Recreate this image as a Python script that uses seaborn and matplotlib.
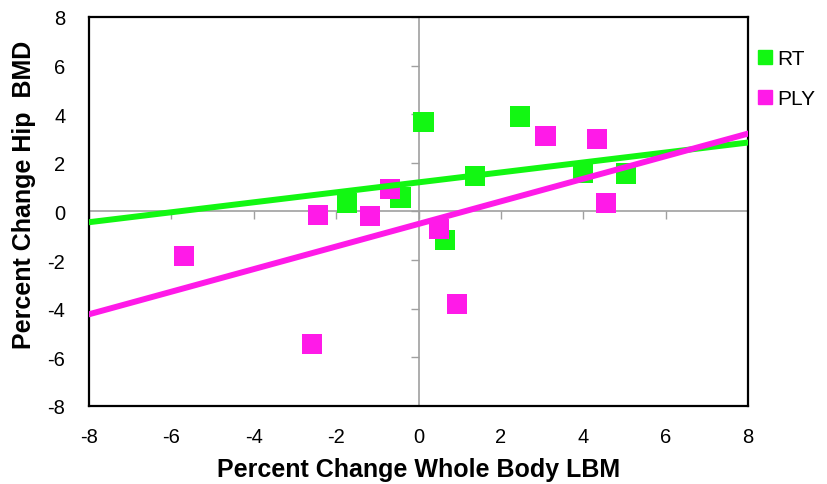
import numpy as np
import pandas as pd
import seaborn as sns
import matplotlib.pyplot as plt

# --- data ---
rt_x = [-1.74, -0.43, 0.12, 0.64, 1.37, 2.46, 3.99, 5.04]
rt_y = [0.35, 0.58, 3.68, -1.18, 1.45, 3.90, 1.58, 1.55]
ply_x = [-5.69, -2.59, -2.44, -1.18, -0.69, 0.50, 0.93, 3.09, 4.33, 4.55]
ply_y = [-1.83, -5.45, -0.14, -0.19, 0.93, -0.72, -3.81, 3.11, 2.98, 0.35]
ticks = [-8, -6, -4, -2, 0, 2, 4, 6, 8]

groups = ['RT', 'PLY']
colors = {'RT': '#12F712', 'PLY': '#FF1AE8'}

df = pd.concat([
    pd.DataFrame({'x': rt_x, 'y': rt_y, 'group': 'RT'}),
    pd.DataFrame({'x': ply_x, 'y': ply_y, 'group': 'PLY'}),
])

sns.set_style('white')
plt.rcParams['font.family'] = ['Liberation Sans', 'DejaVu Sans']
plt.rcParams['axes.unicode_minus'] = False
for key in ['text.color', 'axes.labelcolor', 'xtick.color', 'ytick.color']:
    plt.rcParams[key] = 'black'

fig = plt.figure(figsize=(8.27, 4.85), dpi=100)
ax = fig.add_axes([0.1076, 0.161, 0.7969, 0.802])
ax.set_xlim(-8, 8)
ax.set_ylim(-8, 8)

# gray axes crossing at zero, with small tick marks
ax.axhline(0, color='#A0A0A0', lw=1.2, zorder=1)
ax.axvline(0, color='#A0A0A0', lw=1.2, zorder=1)
ax.scatter(ticks, np.zeros(len(ticks)), marker=3, s=30, color='#A0A0A0', lw=1, zorder=1)
ax.scatter(np.zeros(len(ticks)), ticks, marker=0, s=30, color='#A0A0A0', lw=1, zorder=1)

sns.scatterplot(data=df, x='x', y='y', hue='group', hue_order=groups,
                palette=colors, marker='s', s=220, edgecolor='none',
                legend=False, ax=ax, zorder=3)

for g in groups:
    sub = df[df.group == g]
    sns.regplot(data=sub, x='x', y='y', scatter=False, ci=None, truncate=False,
                color=colors[g], line_kws={'lw': 4.3, 'zorder': 4}, ax=ax)

ax.set_xlim(-8, 8)
ax.set_ylim(-8, 8)
ax.set_xticks(ticks)
ax.set_yticks(ticks)
ax.tick_params(length=0, labelsize=14.5)
ax.tick_params(axis='x', pad=15)
ax.tick_params(axis='y', pad=17)
for s in ax.spines.values():
    s.set_visible(True)
    s.set_color('black')
    s.set_linewidth(1.6)

ax.set_xlabel('Percent Change Whole Body LBM', fontsize=18, fontweight='bold', labelpad=8)
ax.set_ylabel('Percent Change Hip  BMD', fontsize=18, fontweight='bold')
ax.yaxis.set_label_coords(-0.08, 0.545)

handles = [plt.Line2D([], [], marker='s', ls='', color=colors[g], markersize=10) for g in groups]
fig.legend(handles, groups, loc='upper left', bbox_to_anchor=(0.889, 0.935),
           frameon=False, fontsize=15, handletextpad=0.0, labelspacing=1.0,
           handlelength=1.1)

fig.savefig('out.png', dpi=100)
